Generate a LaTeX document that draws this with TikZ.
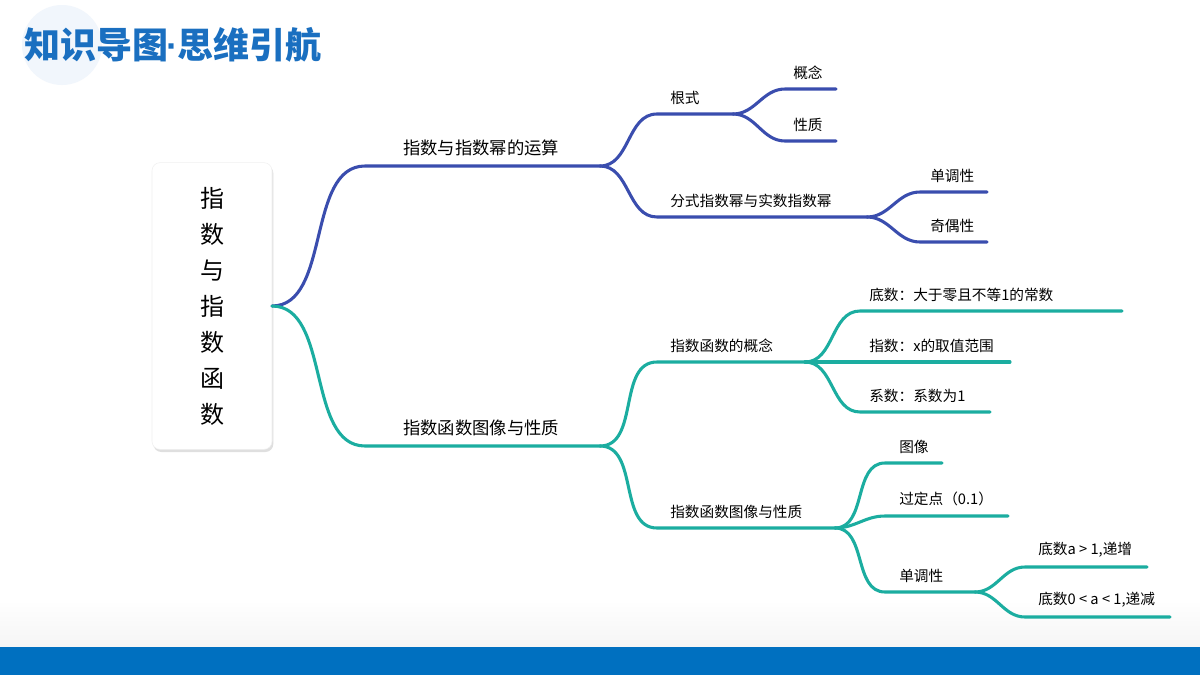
\documentclass[tikz,border=0pt]{standalone}
\usepackage{fontspec}
\setmainfont{Noto Sans CJK SC}
\newfontfamily\latinfont{Liberation Sans}
\usetikzlibrary{shadows}
\definecolor{titleblue}{HTML}{1A6FC0}
\definecolor{barblue}{HTML}{0070C0}
\definecolor{bblue}{HTML}{3A4DAE}
\definecolor{tteal}{HTML}{1BADA0}
\definecolor{halo}{HTML}{F1F6FC}
\begin{document}
\begin{tikzpicture}
[x=0.75pt,y=-0.75pt,
branch/.style={line width=2.3pt,line cap=round},
up/.style={branch,bblue},
down/.style={branch,tteal},
lbl/.style={anchor=south west,inner sep=0pt,yshift=7pt,font=\fontsize{11}{13}\selectfont},
biglbl/.style={lbl,font=\fontsize{13}{15}\selectfont},
rootbox/.style={draw=black!6,fill=white,rounded corners=6pt,drop shadow={opacity=.25,shadow xshift=1pt,shadow yshift=-2pt},
  minimum width=90pt,minimum height=215pt,align=center,font=\fontsize{18}{27}\selectfont}
]
\useasboundingbox (0,0) rectangle (1200,675);
% background
\fill[white] (0,0) rectangle (1200,675);
\fill[halo] (62,45) circle (40);
\shade[top color=white,bottom color=black!4] (0,600) rectangle (1200,647);
\fill[barblue] (0,647) rectangle (1200,675);
\node[titleblue,font=\fontsize{27}{29}\bfseries\selectfont,anchor=west,inner sep=0pt] (title) at (24,45) {知识导图\hspace{-1pt}{\latinfont\bfseries·}\hspace{-1pt}思维引航};

% root
\node[rootbox] (root) at (212,306) {指\\数\\与\\指\\数\\函\\数};
\coordinate (r) at (272,306);

% first level
\coordinate (a1s) at (365,166); \coordinate (a1e) at (600,166);
\coordinate (a2s) at (365,446); \coordinate (a2e) at (600,446);
\draw[up] (r) to[out=0,in=180,looseness=.9] (a1s) -- (a1e);
\draw[down] (r) to[out=0,in=180,looseness=.9] (a2s) -- (a2e);
\node[biglbl] (t1) at (403,166) {指数与指数幂的运算};
\node[biglbl] (t2) at (403,446) {指数函数图像与性质};

% upper branch
\coordinate (b1s) at (657,114); \coordinate (b1e) at (733,114);
\coordinate (b2s) at (657,217); \coordinate (b2e) at (867,217);
\draw[up] (a1e) to[out=0,in=180] (b1s) -- (b1e);
\draw[up] (a1e) to[out=0,in=180] (b2s) -- (b2e);
\node[lbl] (tb1) at (670,114) {根式};
\node[lbl] (tb2) at (670,217) {分式指数幂与实数指数幂};
\coordinate (c1s) at (785,89);  \coordinate (c1e) at (836,89);
\coordinate (c2s) at (785,141); \coordinate (c2e) at (836,141);
\draw[up] (b1e) to[out=0,in=180] (c1s) -- (c1e);
\draw[up] (b1e) to[out=0,in=180] (c2s) -- (c2e);
\node[lbl] (tc1) at (793,89) {概念};
\node[lbl] (tc2) at (793,141) {性质};
\coordinate (c3s) at (920,192); \coordinate (c3e) at (987,192);
\coordinate (c4s) at (920,242); \coordinate (c4e) at (987,242);
\draw[up] (b2e) to[out=0,in=180] (c3s) -- (c3e);
\draw[up] (b2e) to[out=0,in=180] (c4s) -- (c4e);
\node[lbl] (tc3) at (930,192) {单调性};
\node[lbl] (tc4) at (930,242) {奇偶性};

% lower branch
\coordinate (d1s) at (657,362); \coordinate (d1e) at (805,362);
\coordinate (d2s) at (657,528); \coordinate (d2e) at (835,528);
\draw[down] (a2e) to[out=0,in=180] (d1s) -- (d1e);
\draw[down] (a2e) to[out=0,in=180] (d2s) -- (d2e);
\node[lbl] (td1) at (670,362) {指数函数的概念};
\node[lbl] (td2) at (670,528) {指数函数图像与性质};
\coordinate (e1s) at (860,311); \coordinate (e1e) at (1122,311);
\coordinate (e2s) at (860,362); \coordinate (e2e) at (1010,362);
\coordinate (e3s) at (860,412); \coordinate (e3e) at (990,412);
\draw[down] (d1e) to[out=0,in=180] (e1s) -- (e1e);
\draw[down] (d1e) to[out=0,in=180] (e2s) -- (e2e);
\draw[down] (d1e) to[out=0,in=180] (e3s) -- (e3e);
\node[lbl] (te1) at (869,311) {底数：大于零且不等1的常数};
\node[lbl] (te2) at (869,362) {指数：x的取值范围};
\node[lbl] (te3) at (869,412) {系数：系数为1};
\coordinate (f1s) at (885,463); \coordinate (f1e) at (942,463);
\coordinate (f2s) at (885,516); \coordinate (f2e) at (1008,516);
\coordinate (f3s) at (885,592); \coordinate (f3e) at (975,592);
\draw[down] (d2e) to[out=0,in=180] (f1s) -- (f1e);
\draw[down] (d2e) to[out=0,in=180] (f2s) -- (f2e);
\draw[down] (d2e) to[out=0,in=180] (f3s) -- (f3e);
\node[lbl] (tf1) at (899,463) {图像};
\node[lbl] (tf2) at (899,516) {过定点（0.1）};
\node[lbl] (tf3) at (899,592) {单调性};
\coordinate (g1s) at (1025,567); \coordinate (g1e) at (1147,567);
\coordinate (g2s) at (1025,617); \coordinate (g2e) at (1170,617);
\draw[down] (f3e) to[out=0,in=180] (g1s) -- (g1e);
\draw[down] (f3e) to[out=0,in=180] (g2s) -- (g2e);
\node[lbl] (tg1) at (1038,567) {底数a > 1,递增};
\node[lbl] (tg2) at (1038,617) {底数0 < a < 1,递减};
\end{tikzpicture}
\end{document}
